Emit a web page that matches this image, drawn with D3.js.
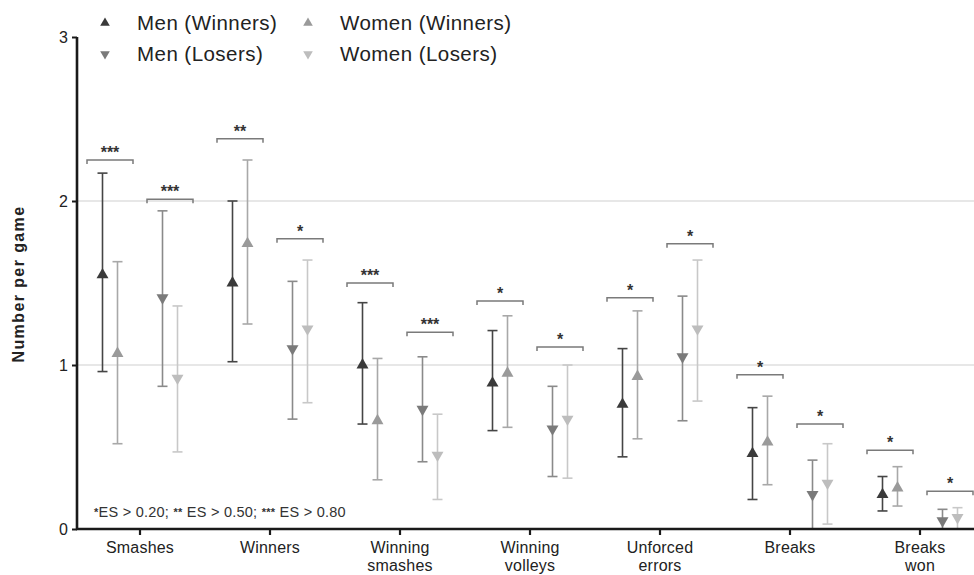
<!DOCTYPE html>
<html>
<head>
<meta charset="utf-8">
<script src="https://cdn.jsdelivr.net/npm/d3@7"></script>
<style>
  html, body { margin: 0; padding: 0; background: #fff; }
  svg { display: block; font-family: "Liberation Sans", Arial, Helvetica, sans-serif; }
</style>
</head>
<body>
<svg id="chart" width="974" height="575"></svg>
<script>
// Match statistics per game (mean with error range) by sex and match outcome
const categories = ["Smashes", "Winners", "Winning smashes", "Winning volleys", "Unforced errors", "Breaks", "Breaks won"];
const categoryLines = [["Smashes"], ["Winners"], ["Winning", "smashes"], ["Winning", "volleys"], ["Unforced", "errors"], ["Breaks"], ["Breaks", "won"]];

const menWinMean   = [1.55, 1.50, 1.00, 0.89, 0.76, 0.46, 0.21];
const menWinLow    = [0.96, 1.02, 0.64, 0.60, 0.44, 0.18, 0.11];
const menWinHigh   = [2.17, 2.00, 1.38, 1.21, 1.10, 0.74, 0.32];

const womenWinMean = [1.07, 1.74, 0.66, 0.95, 0.93, 0.53, 0.25];
const womenWinLow  = [0.52, 1.25, 0.30, 0.62, 0.55, 0.27, 0.14];
const womenWinHigh = [1.63, 2.25, 1.04, 1.30, 1.33, 0.81, 0.38];

const menLosMean   = [1.41, 1.10, 0.73, 0.61, 1.05, 0.21, 0.05];
const menLosLow    = [0.87, 0.67, 0.41, 0.32, 0.66, 0.00, 0.00];
const menLosHigh   = [1.94, 1.51, 1.05, 0.87, 1.42, 0.42, 0.12];

const womenLosMean = [0.92, 1.22, 0.45, 0.67, 1.22, 0.28, 0.07];
const womenLosLow  = [0.47, 0.77, 0.18, 0.31, 0.78, 0.03, 0.00];
const womenLosHigh = [1.36, 1.64, 0.70, 1.00, 1.64, 0.52, 0.13];

// Effect-size brackets: height and label for winners pair and losers pair
const winBracketY  = [2.25, 2.38, 1.50, 1.39, 1.41, 0.94, 0.48];
const winStars     = ["***", "**", "***", "*", "*", "*", "*"];
const losBracketY  = [2.01, 1.77, 1.20, 1.11, 1.74, 0.64, 0.23];
const losStars     = ["***", "*", "***", "*", "*", "*", "*"];

const yTicks = [0, 1, 2, 3];
const gridValues = [1, 2];

const series = [
  { name: "Men (Winners)",   sex: "Men",   outcome: "Winners", mean: menWinMean,   low: menWinLow,   high: menWinHigh,   marker: "#3a3a3a", bar: "#454545", up: true },
  { name: "Women (Winners)", sex: "Women", outcome: "Winners", mean: womenWinMean, low: womenWinLow, high: womenWinHigh, marker: "#9a9a9a", bar: "#a8a8a8", up: true },
  { name: "Men (Losers)",    sex: "Men",   outcome: "Losers",  mean: menLosMean,   low: menLosLow,   high: menLosHigh,   marker: "#7a7a7a", bar: "#8a8a8a", up: false },
  { name: "Women (Losers)",  sex: "Women", outcome: "Losers",  mean: womenLosMean, low: womenLosLow, high: womenLosHigh, marker: "#bdbdbd", bar: "#c8c8c8", up: false }
];

const svg = d3.select("#chart");

const x = d3.scaleBand().domain(categories).range([75, 985]).paddingInner(0).paddingOuter(0);
const outcomeScale = d3.scaleBand().domain(["Winners", "Losers"]).range([-60, 60]);
const sexScale = d3.scalePoint().domain(["Men", "Women"]).range([-7.5, 7.5]);
const y = d3.scaleLinear().domain([0, 3]).range([529, 37]);

const axisX = 77;
const center = c => x(c) + x.bandwidth() / 2;
const pairCenter = (c, outcome) => center(c) + outcomeScale(outcome) + outcomeScale.bandwidth() / 2;
const xPos = (c, s) => pairCenter(c, s.outcome) + sexScale(s.sex);

// horizontal reference lines
svg.append("g").selectAll("line").data(gridValues).join("line")
  .attr("x1", axisX).attr("x2", 974)
  .attr("y1", d => y(d)).attr("y2", d => y(d))
  .attr("stroke", "#cfcfcf").attr("stroke-width", 1.2);

// error bars and markers
const triUp = d3.symbol().type(d3.symbolTriangle).size(62);
series.forEach(s => {
  const g = svg.append("g");
  const rows = categories.map((c, i) => ({ c, m: s.mean[i], lo: s.low[i], hi: s.high[i] }));
  g.selectAll("line.v").data(rows).join("line").attr("class", "v")
    .attr("x1", d => xPos(d.c, s)).attr("x2", d => xPos(d.c, s))
    .attr("y1", d => y(d.lo)).attr("y2", d => y(d.hi))
    .attr("stroke", s.bar).attr("stroke-width", 1.6);
  ["lo", "hi"].forEach(k => {
    g.selectAll("line.cap" + k).data(rows).join("line").attr("class", "cap" + k)
      .attr("x1", d => xPos(d.c, s) - 5).attr("x2", d => xPos(d.c, s) + 5)
      .attr("y1", d => y(d[k])).attr("y2", d => y(d[k]))
      .attr("stroke", s.bar).attr("stroke-width", 1.6);
  });
  g.selectAll("path").data(rows).join("path")
    .attr("d", triUp)
    .attr("transform", d => `translate(${xPos(d.c, s)},${y(d.m)})${s.up ? "" : " rotate(180)"}`)
    .attr("fill", s.marker);
});

// effect-size brackets
function drawBrackets(outcome, levels, labels) {
  const g = svg.append("g");
  categories.forEach((c, i) => {
    const cx = pairCenter(c, outcome);
    const yy = y(levels[i]);
    g.append("path")
      .attr("d", `M${cx - 23},${yy + 4}V${yy}H${cx + 23}V${yy + 4}`)
      .attr("fill", "none").attr("stroke", "#7a7a7a").attr("stroke-width", 1.5);
    g.append("text")
      .attr("x", cx).attr("y", yy - 2)
      .attr("text-anchor", "middle")
      .attr("font-size", 16).attr("font-weight", "bold").attr("fill", "#333")
      .text(labels[i]);
  });
}
drawBrackets("Winners", winBracketY, winStars);
drawBrackets("Losers", losBracketY, losStars);

// y axis
const yAxis = d3.axisLeft(y).tickValues(yTicks).tickFormat(d3.format("d")).tickSize(5).tickPadding(4);
const gy = svg.append("g").attr("transform", `translate(${axisX},0)`).call(yAxis);
gy.select(".domain").attr("stroke", "#1a1a1a").attr("stroke-width", 2.6).attr("d", `M0,${y(3)}V${y(0)}`);
gy.selectAll(".tick line").attr("stroke", "#1a1a1a").attr("stroke-width", 2);
gy.selectAll(".tick text").attr("font-size", 16).attr("fill", "#222").attr("font-family", "Liberation Sans, Arial, sans-serif");

// x axis
const xAxis = d3.axisBottom(x).tickSize(6).tickFormat("");
const gx = svg.append("g").attr("transform", `translate(0,${y(0)})`).call(xAxis);
gx.select(".domain").attr("stroke", "#1a1a1a").attr("stroke-width", 2.6).attr("d", `M${axisX - 1},0H974`);
gx.selectAll(".tick line").attr("stroke", "#1a1a1a").attr("stroke-width", 2.2);
gx.selectAll(".tick").each(function(d, i) {
  const t = d3.select(this).append("text")
    .attr("text-anchor", "middle").attr("fill", "#222")
    .attr("font-size", 16).attr("letter-spacing", "0.2");
  categoryLines[i].forEach((line, j) => {
    t.append("tspan").attr("x", 0).attr("y", 24 + j * 18).text(line);
  });
});

// y axis title
svg.append("text")
  .attr("transform", `translate(24,${(y(1) + y(2)) / 2 + 1}) rotate(-90)`)
  .attr("text-anchor", "middle")
  .attr("font-size", 16).attr("font-weight", "bold").attr("fill", "#222")
  .attr("letter-spacing", "1.4")
  .text("Number per game");

// legend
const legendItems = [
  { s: series[0], x: 105, y: 23 },
  { s: series[2], x: 105, y: 54 },
  { s: series[1], x: 308, y: 23 },
  { s: series[3], x: 308, y: 54 }
];
const lg = svg.append("g");
legendItems.forEach(it => {
  lg.append("path")
    .attr("d", d3.symbol().type(d3.symbolTriangle).size(40))
    .attr("transform", `translate(${it.x},${it.y})${it.s.up ? "" : " rotate(180)"}`)
    .attr("fill", it.s.marker);
  lg.append("text")
    .attr("x", it.x + 32).attr("y", it.y).attr("dy", "0.35em")
    .attr("font-size", 20.5).attr("fill", "#222").attr("letter-spacing", "0.45")
    .text(it.s.name);
});

// effect-size footnote
const fn = svg.append("text")
  .attr("x", 94).attr("y", 517)
  .attr("font-size", 14.5).attr("fill", "#333").attr("letter-spacing", "0.25");
fn.append("tspan").attr("font-size", 11).attr("font-weight", "bold").attr("dy", -1).text("*");
fn.append("tspan").attr("dy", 1).text("ES > 0.20; ");
fn.append("tspan").attr("font-size", 11).attr("font-weight", "bold").attr("dy", -1).text("**");
fn.append("tspan").attr("dy", 1).text(" ES > 0.50; ");
fn.append("tspan").attr("font-size", 11).attr("font-weight", "bold").attr("dy", -1).text("***");
fn.append("tspan").attr("dy", 1).text(" ES > 0.80");
</script>
</body>
</html>
